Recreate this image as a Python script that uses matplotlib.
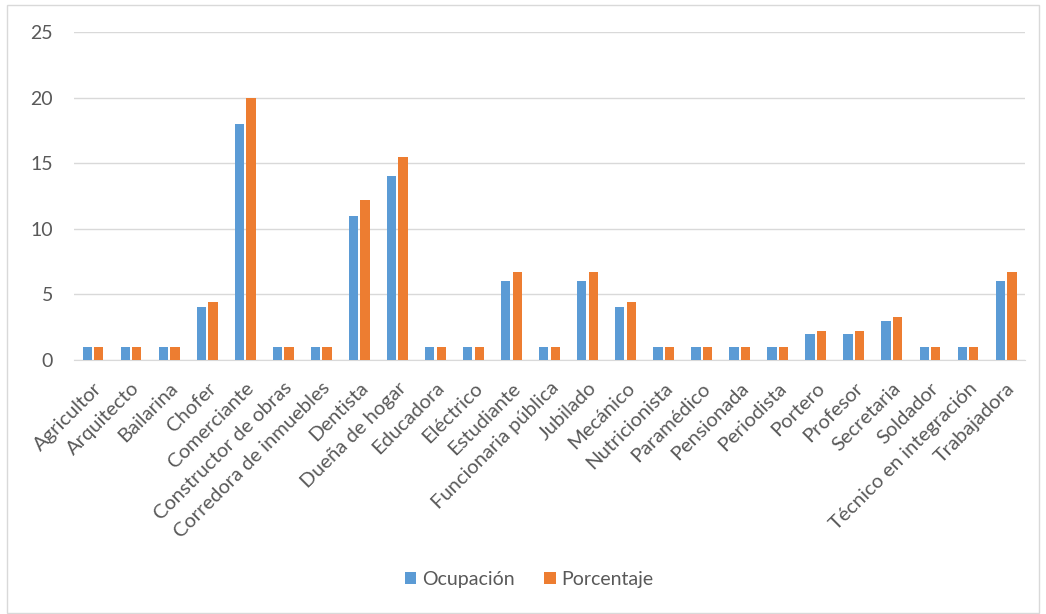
import numpy as np
import matplotlib.pyplot as plt
from matplotlib.patches import Rectangle

categorias = ["Agricultor", "Arquitecto", "Bailarina", "Chofer", "Comerciante",
              "Constructor de obras", "Corredora de inmuebles", "Dentista",
              "Dueña de hogar", "Educadora", "Eléctrico", "Estudiante",
              "Funcionaria pública", "Jubilado", "Mecánico", "Nutricionista",
              "Paramédico", "Pensionada", "Periodista", "Portero", "Profesor",
              "Secretaria", "Soldador", "Técnico en integración", "Trabajadora"]
ocupacion = [1, 1, 1, 4, 18, 1, 1, 11, 14, 1, 1, 6, 1, 6, 4, 1, 1, 1, 1, 2, 2, 3, 1, 1, 6]
porcentaje = [1, 1, 1, 4.4, 20.0, 1, 1, 12.2, 15.5, 1, 1, 6.7, 1, 6.7,
              4.4, 1, 1, 1, 1, 2.2, 2.2, 3.3, 1, 1, 6.7]

plt.rcParams["font.family"] = ["Lato", "DejaVu Sans"]
txt = "#595959"

fig = plt.figure(figsize=(10.46, 6.14), dpi=100)
ax = fig.add_axes([0.0707, 0.4137, 0.9093, 0.5343])
fig.patches.append(Rectangle((7 / 1046, 0.002), 1032 / 1046, 1 - 5 / 614 - 0.002,
                             transform=fig.transFigure, fill=False,
                             edgecolor="#D9D9D9", linewidth=1))

x = np.arange(len(categorias))
w = 0.245
ax.bar(x - w / 2 - 0.03, ocupacion, w, color="#5B9BD5", label="Ocupación", zorder=3)
ax.bar(x + w / 2 + 0.03, porcentaje, w, color="#ED7D31", label="Porcentaje", zorder=3)

ax.set_xlim(-0.5, len(categorias) - 0.5)
ax.set_ylim(0, 25)
ax.set_yticks([0, 5, 10, 15, 20, 25])
ax.grid(axis="y", color="#D9D9D9", linewidth=1, zorder=0)
for s in ["top", "right", "left"]:
    ax.spines[s].set_visible(False)
ax.spines["bottom"].set_color("#D9D9D9")
ax.tick_params(axis="both", length=0, colors=txt)
ax.tick_params(axis="y", pad=15, labelsize=14)
ax.set_xticks(x)
ax.set_xticklabels(categorias, rotation=45, ha="right", rotation_mode="anchor")
ax.tick_params(axis="x", pad=14, labelsize=14.5)

leg = fig.legend(loc="center", bbox_to_anchor=(0.506, 0.056), ncol=2, frameon=False,
                 fontsize=14, handlelength=0.6, handleheight=0.6, handletextpad=0.3,
                 columnspacing=1.5)
for t in leg.get_texts():
    t.set_color(txt)

fig.savefig("out.png", dpi=100)
